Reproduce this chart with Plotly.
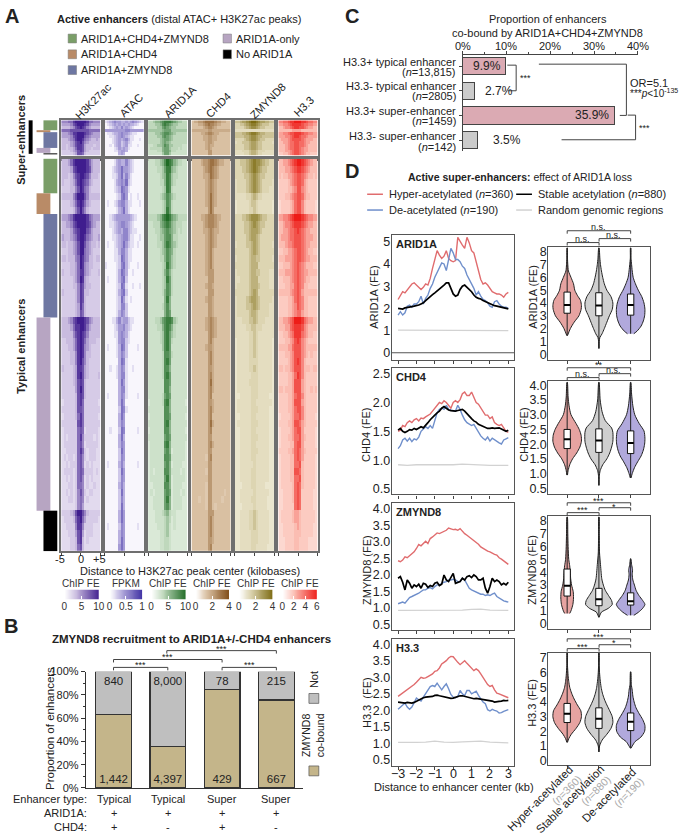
import numpy as np
import plotly.graph_objects as go

W, H = 685, 838
FONT = "Liberation Sans, Arial, sans-serif"
INK = "#222222"
FRAME = "#555555"

# ---------- Panel A: digit rows, 0 (no signal) to 9 (strongest), left=-5 kb, right=+5 kb ----------
TRACKS = ["H3K27ac", "ATAC", "ARID1A", "CHD4", "ZMYND8", "H3.3"]
TRACK_LOW_COLORS = ["#EFEAF6", "#F8F6FC", "#E8F2E5", "#EBDCC8", "#F2EEDC", "#FDE6DF"]
TRACK_MID_COLORS = ["#C9BBDF", "#B9B0DF", "#BFD8BC", "#D9C0A2", "#DDD5B2", "#FBBDB2"]
TRACK_TOP_COLORS = ["#3F1D8E", "#3E2FA3", "#1F6B25", "#7E4A14", "#7C6A10", "#EE1C18"]

super_H3K27ac = """55566899999866555 44445789998754444 33334578987543333 66667777777766666 44456889998765444 44445789997654444
33345689986543343 33334578975433333 33234578874333233 33233468874332333 22223457874322222 22222347763222222""".split()
super_ATAC = """12345443343454321 01234343434332100 00123435343210000 44444444455444444 01123345443211000 00112345432110000
00012343453110010 00012342342100000 00102342341100100 00001243431000000 00001134430000000 00000034300000000""".split()
super_ARID1A = """33455678887654433 33344578765443333 33334467654433333 44444456664444444 33344567765433333 33334467654333333
33333456654333333 33333456543333333 22334457644333322 23333356643332322 22223356653322222 22222246642222222""".split()
super_CHD4 = """34455677776554433 33344567665443333 33333456654333333 44444445544444444 33334456654433333 33333445544333333
33333445544333333 33333345543333333 33333345443333333 33333345433333333 33333335533333333 33333335533333333""".split()
super_ZMYND8 = """44566789987665544 33445678876544433 33334567765443333 22222222222222222 44455678876554444 44445567765544444
33334567765443333 23344456654433332 33334456654433333 33334456654433333 22233345543332222 22223345543322222""".split()
super_H33 = """55667889998876655 44556788887665544 33455678877654433 33333344443333333 44556778887665544 44455678876654444
34445677776544433 33445667766544333 33345667766543333 33345667765443333 33344567765443333 22334567765433222""".split()

typical_H3K27ac = """33346899999864333 33334789999874333 33323578998753332 32223468987643222 22223357986532222
33333579997533333 22223468986432222 22222357975322222
44456899999865444 33445789999875433 33334678999764333 43334568998654334 33233457997543323 22233457996543222 33233356986533233 22223346985433222 32223346885432223 22222346984322222 22222335874332222 32222235873322222 22222235873222222 22222234863222222 22222234763222222
33345789998754333 33334688998643333 33333578987533333 22333468986433322 22233468985432222 22223358985332222 22223358975322222 32222348874322222 22222348974322223 22222347873222222 22222247973222222 22222237873222222 12222237862222221 22222237762222222 12222236862222221 22222227862222222 12222226761222221 12122226852222121 12222226751222221 11222226862122211 12122126752122211 11212226751212111 12222126762222121 11212126751212111 11122126651211211 11212125752122111 11122125651211111 11111125641111111
22223479975322222 12222368964222221 11222258852222111 11122247841222111 11112237831211111 11112236731111111""".split()
typical_ATAC = """00001343353210000 00012346443210000 00011246353100000 00001345462100000 00001236541000000
00000125640100100 01001245531100010 00000134631000000
00123444444321000 00112345543210000 00012343553211000 00011234553110010 01001234642110100 00001135531100000 00001126531100000 10000125631000100 00000136530010000 01000135620000000 00000126510010010 00000135620000000 00000126410100000 00000125520000000 00000135420000000
00011353442110000 00001244532100000 00001145431000000 00000145521000000 01000136520000100 00000135420000000 00000036510000000 00100135410010000 00000135510000000 00000036410000000 00000035510000000 01000035410000100 00000036400000000 00000026510000000 00000036400000000 00000035400000000 00100026500000100 00000036300000000 00000035400000000 00000026400000000 00000025400000000 01000035300000100 00000026400000000 00000025400000000 00000035300000000 00000026300000000 00000025300000000 00000026300000000
00000036400000000 00000036400000000 01000025400000100 00000035400000000 00000036400000000 00000046400000000""".split()
typical_ARID1A = """22233457987543322 22223346885432222 22222345874332222 22222335874322222 22222234873222222
22222345764322222 22222234763222222 22222234863222222
33334578986543333 22333567875433322 22233456765432322 22223446775332222 22223346875432222 22222345765322222 22222335764322222 22222234864322222 22222235753222222 22222234863222222 22222234763222222 22222235763222222 22222225852222222 22222235752222222 22222225762222222
22233467887432222 22223357875322222 22222347864322222 22222347863222222 22222247862222222 22222237763222222 22222237862222222 22222237752222222 22222237862222222 22222227762222222 22222227752222222 22222236762222222 12222237852222221 22222227752222222 12222227762222221 22222227852222222 12222227752222221 22222226762222222 12222227852222221 12222226751222221 12222227762222221 12222226751222211 12122227752222121 12222226851222221 11222227751222211 12122226761222121 11222226851222211 11222226751222211
11122234532211111 11122223431211111 11112223421211111 11111223421111111 11111223321111111 11111223321111111""".split()
typical_CHD4 = """33334556776544333 33333456765433333 33333445765433333 33333345654333333 33333345654333333
33333345754333333 33333345754333333 33333335753333333
33334456665443333 33333456665433333 33333445654433333 33333345654333333 33333345654333333 33333345643333333 33333345643333333 33333345643333333 33333345553333333 33333335553333333 33333345543333333 33333335553333333 33333345543333333 33333335543333333 33333335543333333
33333345654333333 33333345654333333 33333335654333333 33333335643333333 33333345543333333 33333335643333333 33333335643333333 33333335543333333 33333335643333333 33333335743333333 33333335643333333 33333335633333333 33333335543333333 33333335643333333 33333335633333333 33333335743333333 33333335633333333 33333335533333333 33333335643333333 33333335533333333 33333325633333333 33333335533333333 33333325533333333 33333335533333333 33333325533333333 33333325533333233 33323325533332333 33333325532333333
33333335553333333 33333335643333333 33333335643333333 33333335643333333 33333335543333333 33333335633333333""".split()
typical_ZMYND8 = """33444567877654433 33344567876544333 33334456765443333 23333456765433332 23333456765433322
22222334543322222 12222234432222221 12222233432222221
33344567776544333 33334456765443333 33334456665433333 33333456654333333 23333445654333332 33333345654333333 23333345544333332 33333345553333333 23333345544333322 22333345553333322 23333345554333322 33333345653333333 23333456654333332 23333445654333322 23333345543333322
22233344543332222 22222334433322222 22222233432222222 12222233432222221 12222233432222221 12222233432222221 12222233332222221 12222233432222221 12222223332222221 12222233332222221 12222223332222221 11222223332222211 12222223322222221 12222223332222211 11222223322222211 12222223332222211 11222223322222211 11222223332222211 11222223322222211 11222223332222211 11222223322222211 11222222322222211 11222223322222211 11222223322222211 11122223322221111 11222222322222211 11222223322222111 11122222322222111
11222233432222211 11222233432222211 11222233432222211 11222223332222211 11222223332222211 11222223322222111""".split()
typical_H33 = """33445678998765433 33344567887654333 32334456776543323 22223456776432222 22223345775432222
22233456776433222 12222346775322221 12222346775322221
44556789998765544 33455678887654433 33445667876544333 34445667776544433 33345567776544333 22334456776543322 33344456776544333 22333456765433322 33344456765443333 22333456765433222 22233446765332222 33333456764333333 22223346765332222 22223345765332222 22223345664332222
33445679998654433 33344678887543333 22334568886543322 22233457875432222 33334467775433333 22233457775432322 22223457875322222 33233457775333233 22223346875322222 22223347774322222 33233347774322323 22223346775322222 22223347774322222 22223346775322222 12222346675322221 22223347764322222 12222346774222221 12223346674322221 12222336774222221 22223346764322222 12222336764222221 12222336673222221 12222337763222221 12222336673222221 12222236763222221 11222236762222211 11222236762222211 11222226762222211
12222234432222221 12222234432222221 11222223432222211 11222223332222211 11122223322221111 11122223322221111""".split()

super_rows = [super_H3K27ac, super_ATAC, super_ARID1A, super_CHD4, super_ZMYND8, super_H33]
typical_rows = [typical_H3K27ac, typical_ATAC, typical_ARID1A, typical_CHD4, typical_ZMYND8, typical_H33]

colorbar_titles = ["ChIP FE", "FPKM", "ChIP FE", "ChIP FE", "ChIP FE", "ChIP FE"]
colorbar_ticks = [[0, 5, 10], [0, 0.5, 1], [0, 5, 10], [0, 2, 4], [0, 2, 4], [0, 2, 4, 6]]

# ---------- Panel B ----------
b_enhancer_type = ["Typical", "Typical", "Super", "Super"]
b_arid1a = ["+", "+", "+", "+"]
b_chd4 = ["+", "-", "+", "-"]
b_cobound = [1442, 4397, 429, 667]
b_not = [840, 8000, 78, 215]
b_percent_ticks = [0, 20, 40, 60, 80, 100]

# ---------- Panel C ----------
c_name = ["H3.3+ typical enhancer", "H3.3- typical enhancer", "H3.3+ super-enhancer", "H3.3- super-enhancer"]
c_n = ["(<i>n</i>=13,815)", "(<i>n</i>=2805)", "(<i>n</i>=1459)", "(<i>n</i>=142)"]
c_drawn = [9.9, 2.7, 34.6, 3.5]
c_text = ["9.9%", "2.7%", "35.9%", "3.5%"]
c_colors = ["#DBAAB3", "#CBCBCB", "#DBAAB3", "#CBCBCB"]
c_percent_ticks = [0, 10, 20, 30, 40]

# ---------- Panel D: line profiles from -3 kb to +3 kb ----------
arid_hyper = [2.4,2.6,2.75,2.7,2.85,2.95,3.1,3.15,3.05,2.95,2.85,2.95,3.1,3.05,3.35,3.8,4.2,4.6,4.4,4.25,4.35,4.6,4.25,4.15,4.1,4.15,5.2,5.0,4.85,4.7,5.2,4.95,4.6,4.5,4.1,3.6,3.3,3.1,3.15,3.05,2.9,2.75,2.7,2.65,2.65,2.6,2.5,2.65,2.72]
arid_de = [1.7,1.85,1.7,1.8,2.1,2.15,2.05,2.2,2.2,2.3,2.55,2.2,2.45,2.6,2.9,3.1,3.4,3.6,3.8,4.05,4.0,3.7,4.2,4.7,4.5,4.2,4.2,4.1,3.9,3.8,3.5,3.3,3.1,2.9,2.6,2.75,2.55,2.4,2.35,2.25,2.1,2.05,2.3,2.35,2.2,2.1,2.05,2.05,2.0]
arid_stable = [2.0,2.0,1.97,2.02,2.05,2.05,2.08,2.1,2.12,2.15,2.2,2.25,2.35,2.45,2.55,2.62,2.7,2.78,2.9,2.95,3.05,3.15,3.15,2.9,2.65,2.55,2.6,2.85,3.0,3.05,2.95,2.85,2.75,2.6,2.5,2.45,2.42,2.35,2.3,2.25,2.2,2.15,2.12,2.1,2.08,2.05,2.02,2.0,1.98]
arid_random = [1.02,1.02,1.03,1.02,1.02,1.03,1.03,1.02,1.02,1.03,1.02,1.01,1.0]

chd4_hyper = [1.5,1.52,1.6,1.58,1.65,1.68,1.65,1.7,1.72,1.68,1.73,1.72,1.75,1.78,1.8,1.85,1.9,1.95,2.0,1.98,2.03,2.0,1.95,1.9,2.0,2.03,2.0,2.05,2.15,2.18,2.12,2.12,2.18,2.08,2.0,1.97,1.9,1.85,1.78,1.78,1.72,1.75,1.65,1.62,1.6,1.62,1.55,1.5,1.48]
chd4_de = [1.2,1.25,1.35,1.38,1.33,1.38,1.32,1.37,1.35,1.4,1.5,1.55,1.58,1.55,1.6,1.55,1.7,1.82,1.88,1.9,1.88,1.95,1.88,1.87,1.85,1.85,1.95,1.88,1.78,1.7,1.65,1.62,1.6,1.62,1.55,1.48,1.42,1.38,1.35,1.4,1.33,1.38,1.35,1.33,1.3,1.28,1.35,1.37,1.39]
chd4_stable = [1.52,1.55,1.5,1.48,1.5,1.53,1.52,1.55,1.53,1.55,1.58,1.56,1.6,1.65,1.7,1.75,1.78,1.82,1.85,1.9,1.93,1.9,1.87,1.86,1.85,1.85,1.86,1.87,1.88,1.85,1.8,1.77,1.72,1.68,1.66,1.62,1.6,1.58,1.56,1.55,1.55,1.56,1.55,1.55,1.56,1.54,1.52,1.5,1.52]
chd4_random = [.92,.91,.92,.92,.91,.92,.92,.93,.92,.92,.91,.91,.91]

zmy_hyper = [2.43,2.4,2.45,2.55,2.52,2.58,2.62,2.7,2.8,2.92,2.88,2.95,3.02,2.95,3.1,3.15,3.2,3.27,3.25,3.28,3.3,3.35,3.42,3.4,3.37,3.38,3.35,3.4,3.32,3.25,3.2,3.15,3.08,3.05,2.98,2.93,2.85,2.8,2.77,2.72,2.7,2.65,2.62,2.6,2.52,2.48,2.42,2.36,2.32]
zmy_de = [1.13,1.15,1.18,1.15,1.25,1.32,1.35,1.38,1.42,1.45,1.5,1.55,1.55,1.6,1.62,1.58,1.65,1.7,1.7,1.75,1.78,1.8,1.85,1.85,1.87,1.85,1.8,1.8,1.9,1.85,1.7,1.6,1.55,1.52,1.48,1.45,1.42,1.42,1.38,1.4,1.38,1.42,1.45,1.35,1.3,1.25,1.22,1.2,1.18]
zmy_stable = [1.9,1.95,1.78,1.55,1.85,1.75,1.6,1.7,1.65,1.72,1.6,1.75,1.72,1.62,1.68,1.65,1.75,1.78,1.68,1.72,2.0,1.85,1.8,1.95,2.05,1.75,1.78,1.8,1.9,1.85,1.95,1.98,1.92,2.0,1.95,1.85,1.85,1.9,1.6,1.45,1.65,1.9,1.8,1.85,1.8,1.7,1.75,1.7,1.78]
zmy_random = [.93,.93,.94,.95,.94,.95,.94,.94,.96,.97,.94,.94,.93]

h33_hyper = [2.42,2.47,2.52,2.57,2.62,2.66,2.72,2.78,2.85,2.92,3.0,2.97,2.98,3.02,3.05,3.1,3.18,3.2,3.28,3.4,3.45,3.5,3.58,3.63,3.62,3.52,3.45,3.38,3.45,3.5,3.42,3.35,3.27,3.2,3.25,3.2,3.1,3.0,2.9,2.78,2.72,2.75,2.62,2.52,2.5,2.47,2.45,2.42,2.38]
h33_de = [2.03,2.1,2.18,2.22,2.1,2.03,2.1,2.25,2.37,2.32,2.28,2.4,2.5,2.6,2.72,2.75,2.72,2.82,2.7,2.62,2.72,2.8,2.65,2.48,2.4,2.38,2.42,2.6,2.5,2.45,2.6,2.6,2.5,2.55,2.58,2.45,2.35,2.25,2.2,2.02,1.98,2.03,2.0,1.98,1.92,1.93,1.97,2.0,2.02]
h33_stable = [2.25,2.24,2.23,2.22,2.24,2.22,2.22,2.24,2.28,2.32,2.35,2.38,2.4,2.4,2.42,2.42,2.45,2.46,2.44,2.42,2.4,2.38,2.38,2.36,2.37,2.4,2.42,2.44,2.44,2.42,2.4,2.38,2.36,2.35,2.36,2.35,2.33,2.33,2.32,2.3,2.3,2.28,2.25,2.25,2.27,2.28,2.3,2.29,2.3]
h33_random = [1.03,1.02,1.03,1.04,1.07,1.04,1.03,1.05,1.05,1.07,1.04,1.03,1.02]

LINE_COLORS = {"hyper": "#E06C6E", "de": "#6F8FCB", "stable": "#000000", "random": "#D2D2D2"}

# ---------- Panel D: violins: levels, half-widths, box (q1, median, q3) ----------
VIOLIN_FILLS = ["#E6A3A1", "#CFCFCF", "#B1A9DC"]
arid_v = [
 ([1.45,2,2.5,3,3.5,3.8,4.2,4.6,5,5.5,6,6.5,7,7.5,8.3], [.01,.10,.22,.37,.44,.45,.42,.32,.24,.2,.12,.04,.02,.01,.005], (3.2,3.85,4.85)),
 ([.45,1,1.3,1.6,2,2.5,3,3.5,4,4.5,5,5.5,6,6.5,7,7.5,8.3], [.005,.01,.03,.1,.17,.25,.33,.42,.44,.38,.25,.17,.12,.08,.05,.03,.005], (3.0,3.8,4.8)),
 ([1.6,1.8,2.2,2.6,3,3.5,4,4.5,5,5.5,6,6.5,7,7.5,8.3], [.1,.2,.33,.40,.44,.45,.42,.35,.24,.15,.08,.05,.03,.01,.005], (3.05,3.85,4.7)),
]
chd4_v = [
 ([.95,1.1,1.3,1.5,1.7,1.9,2.1,2.3,2.5,2.7,3,3.3,3.6,4.1], [.01,.03,.08,.17,.3,.4,.45,.44,.38,.28,.12,.06,.03,.005], (1.85,2.17,2.5)),
 ([.6,.9,1.1,1.3,1.5,1.7,1.9,2.1,2.4,2.55,2.8,3.1,3.5,4.1], [.005,.01,.04,.12,.25,.34,.40,.44,.44,.40,.2,.1,.04,.005], (1.72,2.12,2.52)),
 ([.85,1.0,1.2,1.4,1.6,1.8,2.0,2.2,2.45,2.7,3,3.3,3.7,4.1], [.01,.05,.12,.22,.33,.4,.44,.45,.42,.27,.13,.07,.03,.005], (1.68,2.04,2.45)),
]
zmy_v = [
 ([.8,1,1.5,2,2.5,3,3.5,4,4.5,5,6,7,8.3], [.08,.12,.18,.2,.19,.14,.11,.1,.08,.05,.03,.02,.005], (2.15,2.95,4.25)),
 ([.5,.9,1.2,1.5,1.8,2.2,2.6,3,3.5,4,4.6,5.5,7,8.3], [.005,.08,.3,.42,.40,.3,.2,.14,.09,.07,.05,.02,.01,.005], (1.4,1.9,2.75)),
 ([.65,.9,1.2,1.5,1.8,2.2,2.6,3,3.4,3.8,4.2,4.6,5.05], [.1,.25,.38,.45,.38,.26,.17,.12,.07,.05,.06,.03,.005], (1.45,1.75,2.4)),
]
h33_v = [
 ([1.25,1.5,1.8,2.2,2.6,3,3.4,3.8,4.2,4.6,5,5.4,5.8,6.5,7.4], [.01,.05,.13,.28,.4,.45,.43,.32,.22,.14,.08,.05,.03,.01,.005], (2.6,3.2,3.9)),
 ([.6,1,1.4,1.8,2.2,2.6,3,3.4,3.8,4.2,4.6,5,5.5,6,6.5,7.4], [.005,.02,.1,.25,.38,.44,.42,.34,.25,.17,.11,.07,.04,.02,.01,.005], (2.2,2.85,3.6)),
 ([.85,1,1.3,1.6,2,2.4,2.8,3.2,3.6,4,4.4,4.8,5.2,6.05], [.01,.05,.14,.32,.44,.45,.38,.27,.17,.11,.07,.05,.02,.005], (2.05,2.65,3.25)),
]

# ---------- helpers ----------
fig = go.Figure()
annotations, shapes, axis_layout = [], [], {}
axis_count = [0]

def px(x): return x / W
def py(y): return 1 - y / H

def new_axes(x0, x1, y0, y1, xopts=None, yopts=None):
    axis_count[0] += 1
    n = axis_count[0]
    suffix = "" if n == 1 else str(n)
    xa, ya = "xaxis" + suffix, "yaxis" + suffix
    base = dict(showgrid=False, zeroline=False, showticklabels=False, ticks="",
                tickfont=dict(family=FONT, size=12.5, color=INK))
    xd = dict(base, domain=[px(x0), px(x1)], anchor="y" + suffix)
    yd = dict(base, domain=[py(y1), py(y0)], anchor="x" + suffix)
    xd.update(xopts or {})
    yd.update(yopts or {})
    axis_layout[xa], axis_layout[ya] = xd, yd
    return "x" + suffix, "y" + suffix

def text(x, y, s, size=11, anchor="center", angle=0, color=INK, xref="paper", yref="paper"):
    annotations.append(dict(x=px(x) if xref == "paper" else x, y=py(y) if yref == "paper" else y,
                            xref=xref, yref=yref, text=s, showarrow=False, xanchor=anchor, yanchor="middle",
                            textangle=angle, font=dict(family=FONT, size=size, color=color), borderpad=0, borderwidth=0))

def rect(x0, y0, x1, y1, fill, line=None, lw=0):
    shapes.append(dict(type="rect", xref="paper", yref="paper", x0=px(x0), x1=px(x1), y0=py(y0), y1=py(y1),
                       fillcolor=fill, line=dict(color=line or fill, width=lw)))

def poly(points, color="#444444", width=1):
    path = "M" + " L".join(f"{px(a):.5f},{py(b):.5f}" for a, b in points)
    shapes.append(dict(type="path", xref="paper", yref="paper", path=path, line=dict(color=color, width=width)))

def bracket(x0, x1, y, label, ly, lx=None, size=9):
    poly([(x0, y + 3), (x0, y), (x1, y), (x1, y + 3)], "#444444", 1)
    text(lx if lx is not None else (x0 + x1) / 2, ly + (1.5 if "*" in label else 0), label, size=size)

def to_matrix(rows, n=17):
    return [[int(c) for c in r.ljust(n, r[-1])[:n]] for r in rows]

# ---------- Panel A ----------
text(9, 10, "<b>A</b>", size=20)
text(178, 13, "<b>Active enhancers</b> (distal ATAC+ H3K27ac peaks)", size=11)
GROUP = {"green": "#7A9E68", "brown": "#B98B67", "blue": "#6E77A2", "lilac": "#B7A5C2", "black": "#000000"}
for x, y, c, s in [(66, 33, "green", "ARID1A+CHD4+ZMYND8"), (66, 49, "brown", "ARID1A+CHD4"), (66, 65, "blue", "ARID1A+ZMYND8"),
                   (223, 33, "lilac", "ARID1A-only"), (223, 49, "black", "No ARID1A")]:
    rect(x, y - 4.5, x + 8.5, y + 4.5, GROUP[c], "#777777", 0.5)
    text(x + 13, y, s, size=11, anchor="left")

col_left = [59, 103, 147, 191, 235, 279]
col_width = 40
title_pos = [(91.5, 96), (130, 100), (179, 97), (218, 100), (268, 96), (304, 102)]
bar_left = [62, 108, 150, 195, 239, 283]
bar_right = [97, 141, 185, 229, 273, 318]
for i, tr in enumerate(TRACKS):
    cs = [[0, TRACK_LOW_COLORS[i]], [1 / 3, TRACK_MID_COLORS[i]], [1, TRACK_TOP_COLORS[i]]]
    bar_cs = [[0, "#FFFFFF"], [1 / 3, TRACK_MID_COLORS[i]], [1, TRACK_TOP_COLORS[i]]]
    frame = dict(showline=True, mirror=True, linecolor="#6F6F6F", linewidth=1.5)
    for rows, top, bottom in [(super_rows[i], 116, 152), (typical_rows[i], 155, 553)]:
        z = to_matrix(rows)
        xo = dict(frame, range=[-5, 5], ticks="outside", ticklen=3, tickcolor="#444444", tickvals=[-5, 0, 5])
        yo = dict(frame, range=[len(z) - 0.5, -0.5])
        xa, ya = new_axes(col_left[i], col_left[i] + col_width, top, bottom, xo, yo)
        fig.add_trace(go.Heatmap(z=z, x0=-5 + 5 / 17, dx=10 / 17, y0=0, dy=1, zmin=0, zmax=9, colorscale=cs,
                                 showscale=False, xaxis=xa, yaxis=ya, hoverinfo="skip"))
    text(*title_pos[i], tr, size=11, angle=-45)
    ticks = colorbar_ticks[i]
    xo = dict(range=[ticks[0], ticks[-1]], tickvals=ticks, ticktext=[str(t) for t in ticks], showticklabels=True,
              ticks="inside", ticklen=3, tickcolor="#FFFFFF", tickfont=dict(family=FONT, size=10, color="#333333"))
    xa, ya = new_axes(bar_left[i], bar_right[i], 592, 602, xo, dict(range=[0, 1]))
    fig.add_trace(go.Heatmap(z=[list(range(10))], x=list(np.linspace(ticks[0], ticks[-1], 10)), y=[0.5], zmin=0, zmax=9,
                             colorscale=bar_cs, showscale=False, zsmooth="best", xaxis=xa, yaxis=ya, hoverinfo="skip"))
    text((bar_left[i] + bar_right[i]) / 2, 586, colorbar_titles[i], size=10, color="#333333")

for x, s in [(58, "-5"), (79, "0"), (98, "+5")]:
    text(x, 561, s, size=11)
text(189, 573, "Distance to H3K27ac peak center (kilobases)", size=11)
text(18, 136, "<b>Super-enhancers</b>", size=11, angle=-90)
text(18, 345, "<b>Typical enhancers</b>", size=11, angle=-90)
rect(26, 116, 30, 150, "#000000")
for c, x0, y0, y1 in [("green", 41, 116, 126), ("brown", 34, 126, 128), ("blue", 41, 128, 144), ("lilac", 34, 144, 149), ("black", 41, 149.5, 150.5),
                      ("green", 41, 155, 190), ("brown", 34, 190, 211), ("blue", 41, 211, 316), ("lilac", 34, 316, 512), ("black", 41, 512, 553)]:
    rect(x0, y0, x0 + 14, y1, GROUP[c])

# ---------- Panel B ----------
text(8, 629, "<b>B</b>", size=20)
text(191, 642, "<b>ZMYND8 recruitment to ARID1A+/-CHD4 enhancers</b>", size=11.5)
b_pos = list(range(4))
b_total = [a + b for a, b in zip(b_cobound, b_not)]
b_co_pct = [100 * a / t for a, t in zip(b_cobound, b_total)]
b_not_pct = [100 * b / t for b, t in zip(b_not, b_total)]
xa, ya = new_axes(84, 304, 675.3, 793.3,
                  dict(range=[-0.51, 3.49], showline=True, linecolor="#333333", linewidth=1.2),
                  dict(range=[0, 100], showline=True, linecolor="#333333", linewidth=1.2, showticklabels=True, ticks="outside",
                       ticklen=4, tickvals=b_percent_ticks, ticktext=[f"{v}%" for v in b_percent_ticks], tickcolor="#333333",
                       minor=dict(tickvals=[10, 30, 50, 70, 90], ticks="outside", ticklen=2, tickcolor="#333333"),
                       tickfont=dict(family=FONT, size=11, color=INK)))
fig.add_trace(go.Bar(x=b_pos, y=b_co_pct, width=0.655, marker=dict(color="#C4B58A", line=dict(color="#333333", width=1.2)),
                     text=[f"{v:,}" for v in b_cobound], textposition="inside", insidetextanchor="start", textangle=0,
                     textfont=dict(family=FONT, size=11.5, color=INK), xaxis=xa, yaxis=ya, hoverinfo="skip"))
fig.add_trace(go.Bar(x=b_pos, y=b_not_pct, width=0.655, marker=dict(color="#BFBFBF", line=dict(color="#333333", width=1.2)),
                     text=[f"{v:,}" for v in b_not], textposition="inside", insidetextanchor="end", textangle=0,
                     textfont=dict(family=FONT, size=11.5, color=INK), xaxis=xa, yaxis=ya, hoverinfo="skip"))
for i in b_pos:
    text(i, 805, b_enhancer_type[i], size=11, xref=xa, yref="paper")
    text(i, 819, b_arid1a[i], size=11, xref=xa, yref="paper")
    text(i, 833, b_chd4[i], size=11, xref=xa, yref="paper")
for y, s in [(805, "Enhancer type:"), (819, "ARID1A:"), (833, "CHD4:")]:
    text(85, y, s, size=11, anchor="right")
text(47, 733, "Proportion of enhancers", size=11.5, angle=-90)
bracket(166, 277, 654, "***", 651)
bracket(112, 222, 663, "***", 659)
bracket(112, 167, 671, "***", 667)
bracket(222, 277, 671, "***", 667)
text(315, 683, "Not", size=11, angle=-90)
rect(310, 697.5, 320, 707.5, "#BFBFBF", "#555555", 0.7)
text(315, 740, "ZMYND8<br>co-bound", size=10.5, angle=-90)
rect(310, 771, 320, 781, "#C4B58A", "#555555", 0.7)

# ---------- Panel C ----------
text(354, 10, "<b>C</b>", size=20)
text(552, 13, "Proportion of enhancers", size=11)
text(552, 27, "co-bound by ARID1A+CHD4+ZMYND8", size=11)
xa, ya = new_axes(465.7, 643.3, 50, 147,
                  dict(side="top", range=[0, 40], showline=True, linecolor="#444444", linewidth=1, ticks="outside",
                       ticklen=3, tickvals=c_percent_ticks, tickcolor="#444444",
                       minor=dict(tickvals=[5, 15, 25, 35], ticks="outside", ticklen=2, tickcolor="#444444")),
                  dict(type="category", range=[3.44, -0.44], categoryorder="array", categoryarray=c_name, showline=True,
                       linecolor="#444444", linewidth=1, ticks="outside", ticklen=3, tickcolor="#444444"))
fig.add_trace(go.Bar(x=c_drawn, y=c_name, orientation="h", width=0.7,
                     marker=dict(color=c_colors, line=dict(color="#444444", width=1)), xaxis=xa, yaxis=ya, hoverinfo="skip"))
for v in c_percent_ticks:
    text(v, 41, f"{v}%", size=11, xref=xa, yref="paper")
for val, lab, s, anc, dx in zip(c_drawn, c_name, c_text, ["right", "left", "right", "left"], [-0.7, 1.9, -0.7, 2.9]):
    annotations.append(dict(x=val + dx, y=lab, xref=xa, yref=ya, text=s, showarrow=False, xanchor=anc, yanchor="middle",
                            font=dict(family=FONT, size=12, color=INK)))
for s1, s2, y1, y2 in zip(c_name, c_n, [56.7, 81, 106.7, 131.7], [66.7, 91, 116.7, 142.7]):
    text(459, y1, s1, size=11, anchor="right")
    text(459, y2, s2, size=11, anchor="right")
poly([(511, 60), (520, 60), (520, 86), (512, 86)])
text(529, 73, "***", size=9)
poly([(543, 59), (631.7, 59), (631.7, 111), (625, 111)])
text(635, 78, "OR=5.1", size=11, anchor="left")
text(635, 88, "***<i>p</i><10<sup>-135</sup>", size=10, anchor="left")
poly([(633, 110.7), (641, 110.7), (641, 135.7), (566, 135.7)])
text(650, 124, "***", size=9)

# ---------- Panel D ----------
text(354, 167, "<b>D</b>", size=20)
text(524, 173, "<b>Active super-enhancers:</b> effect of ARID1A loss", size=10.5)
for x, y, c, s in [(369, 191, "hyper", "Hyper-acetylated (<i>n</i>=360)"), (369, 207, "de", "De-acetylated (<i>n</i>=190)"),
                   (520, 191, "stable", "Stable acetylation (<i>n</i>=880)"), (520, 207, "random", "Random genomic regions")]:
    poly([(x, y), (x + 16, y)], LINE_COLORS[c], 1.5)
    text(x + 22, y, s, size=11, anchor="left")

line_panels = [
    ("ARID1A", (232, 359), [-0.32, 5.32], [0, 1, 2, 3, 4, 5], arid_hyper, arid_de, arid_stable, arid_random, "ARID1A (FE)", 376, 295),
    ("CHD4", (367.7, 495.5), [0.406, 2.59], [0.5, 1.0, 1.5, 2.0, 2.5], chd4_hyper, chd4_de, chd4_stable, chd4_random, "CHD4 (FE)", 368, 435),
    ("ZMYND8", (504.7, 633), [0.34, 4.16], [0.5, 1.0, 1.5, 2.0, 2.5, 3.0, 3.5, 4.0], zmy_hyper, zmy_de, zmy_stable, zmy_random, "ZMYND8 (FE)", 369, 572),
    ("H3.3", (642.7, 771), [0.32, 4.14], [0.5, 1.0, 1.5, 2.0, 2.5, 3.0, 3.5, 4.0], h33_hyper, h33_de, h33_stable, h33_random, "H3.3  (FE)", 369, 707),
]
dist_ticks = [-3, -2, -1, 0, 1, 2, 3]
for k, (name, (top, bottom), yr, yt, hy, de, st, ra, ylabel, lx, ly) in enumerate(line_panels):
    frame = dict(showline=True, mirror=True, linecolor=FRAME, linewidth=1.3)
    xo = dict(frame, range=[-3.34, 3.32], tickvals=dist_ticks, ticks="outside", ticklen=3, tickcolor="#444444")
    yo = dict(frame, range=yr, tickvals=yt, showticklabels=True, tickformat=".1f" if k else "d", ticklabelstandoff=-2)
    xa, ya = new_axes(394, 518, top, bottom, xo, yo)
    for series, key, width in [(ra, "random", 1.3), (hy, "hyper", 1.4), (de, "de", 1.4), (st, "stable", 1.7)]:
        fig.add_trace(go.Scatter(x=np.linspace(-3, 3, len(series)), y=series, mode="lines",
                                 line=dict(color=LINE_COLORS[key], width=width), xaxis=xa, yaxis=ya, hoverinfo="skip"))
    if k == 0:
        fig.add_trace(go.Scatter(x=[-3.34, 3.32], y=[0, 0], mode="lines", line=dict(color=FRAME, width=1.2),
                                 xaxis=xa, yaxis=ya, hoverinfo="skip"))
    if k == 3:
        for t, s in zip(dist_ticks, ["−3", "−2", "−1", "0", "1", "2", "3"]):
            text(t, 779, s, size=12.5, xref=xa, yref="paper")
    text(398, top + 9, f"<b>{name}</b>", size=11, anchor="left")
    text(lx, ly, ylabel, size=11, angle=-90)
text(457, 792, "Distance to enhancer center (kb)", size=11)

violin_panels = [
    (arid_v, (244, 359), [-0.44, 8.41], [0, 1, 2, 3, 4, 5, 6, 7, 8], "d", "ARID1A (FE)", 537, 295),
    (chd4_v, (380.3, 495), [0.31, 4.15], [0.5, 1.0, 1.5, 2.0, 2.5, 3.0, 3.5, 4.0], ".1f", "CHD4 (FE)", 528, 435),
    (zmy_v, (517.7, 632.3), [-0.43, 8.35], [0, 1, 2, 3, 4, 5, 6, 7, 8], "d", "ZMYND8 (FE)", 536, 572),
    (h33_v, (656, 770.3), [-0.31, 7.36], [0, 1, 2, 3, 4, 5, 6, 7], "d", "H3.3 (FE)", 536, 707),
]
BOX_HALF = 0.1
for data, (top, bottom), yr, yt, fmt, ylabel, lx, ly in violin_panels:
    frame = dict(showline=True, mirror=True, linecolor=FRAME, linewidth=1.3)
    xo = dict(frame, range=[-0.59, 2.6], tickvals=[0, 1, 2], ticks="outside", ticklen=3, tickcolor="#444444")
    yo = dict(frame, range=yr, tickvals=yt, showticklabels=True, tickformat=fmt, ticklabelstandoff=-2)
    xa, ya = new_axes(552.7, 655.3, top, bottom, xo, yo)
    for c, (levels, half, (q1, med, q3)) in enumerate(data):
        vx = [c + w for w in half] + [c - w for w in half[::-1]]
        vy = list(levels) + list(levels[::-1])
        fig.add_trace(go.Scatter(x=vx, y=vy, mode="lines", fill="toself", fillcolor=VIOLIN_FILLS[c],
                                 line=dict(color="#222222", width=1, shape="spline", smoothing=0.7), xaxis=xa, yaxis=ya, hoverinfo="skip"))
        fig.add_trace(go.Scatter(x=[c, c], y=[levels[0], levels[-1]], mode="lines", line=dict(color="#222222", width=1),
                                 xaxis=xa, yaxis=ya, hoverinfo="skip"))
        fig.add_trace(go.Scatter(x=[c - BOX_HALF, c + BOX_HALF, c + BOX_HALF, c - BOX_HALF, c - BOX_HALF], y=[q1, q1, q3, q3, q1],
                                 mode="lines", fill="toself", fillcolor="#FFFFFF", line=dict(color="#111111", width=1),
                                 xaxis=xa, yaxis=ya, hoverinfo="skip"))
        fig.add_trace(go.Scatter(x=[c - BOX_HALF, c + BOX_HALF], y=[med, med], mode="lines", line=dict(color="#000000", width=2),
                                 xaxis=xa, yaxis=ya, hoverinfo="skip"))
    text(lx, ly, ylabel, size=11, angle=-90)

X0, X1, X2 = 571.7, 604, 636
for top_y, top_l, top_ly, left_y, left_l, left_ly, right_y, right_l, right_ly in [
    (228, "n.s.", 224, 240, "n.s.", 236.5, 236, "n.s.", 232),
    (367, "**", 363, 377, "n.s.", 373, 373, "n.s.", 369),
    (504, "***", 501, 514, "***", 510, 509, "*", 507),
    (642, "***", 639, 652, "***", 649, 648, "*", 645),
]:
    bracket(X0, X2, top_y, top_l, top_ly)
    bracket(X0, X1, left_y, left_l, left_ly, lx=587)
    bracket(X1, X2, right_y, right_l, right_ly, lx=619)

for x, y, s, c, sz in [(545, 804, "Hyper-acetylated", INK, 11.5), (570.7, 795, "(<i>n</i>=360)", "#AAAAAA", 10.5),
                       (575, 805, "Stable acetylation", INK, 11.5), (600.7, 795, "(<i>n</i>=880)", "#AAAAAA", 10.5),
                       (614, 800, "De-acetylated", INK, 11.5), (634, 797, "(<i>n</i>=190)", "#AAAAAA", 10.5)]:
    text(x, y, s, size=sz, angle=-45, color=c)

fig.update_layout(width=W, height=H, margin=dict(l=0, r=0, t=0, b=0), paper_bgcolor="white", plot_bgcolor="white",
                  showlegend=False, barmode="stack", annotations=annotations, shapes=shapes,
                  font=dict(family=FONT, size=11, color=INK), **axis_layout)

fig.write_html("out.html", config=dict(displayModeBar=False),
               post_script="document.body.style.margin='0';document.documentElement.style.overflow='hidden';")
